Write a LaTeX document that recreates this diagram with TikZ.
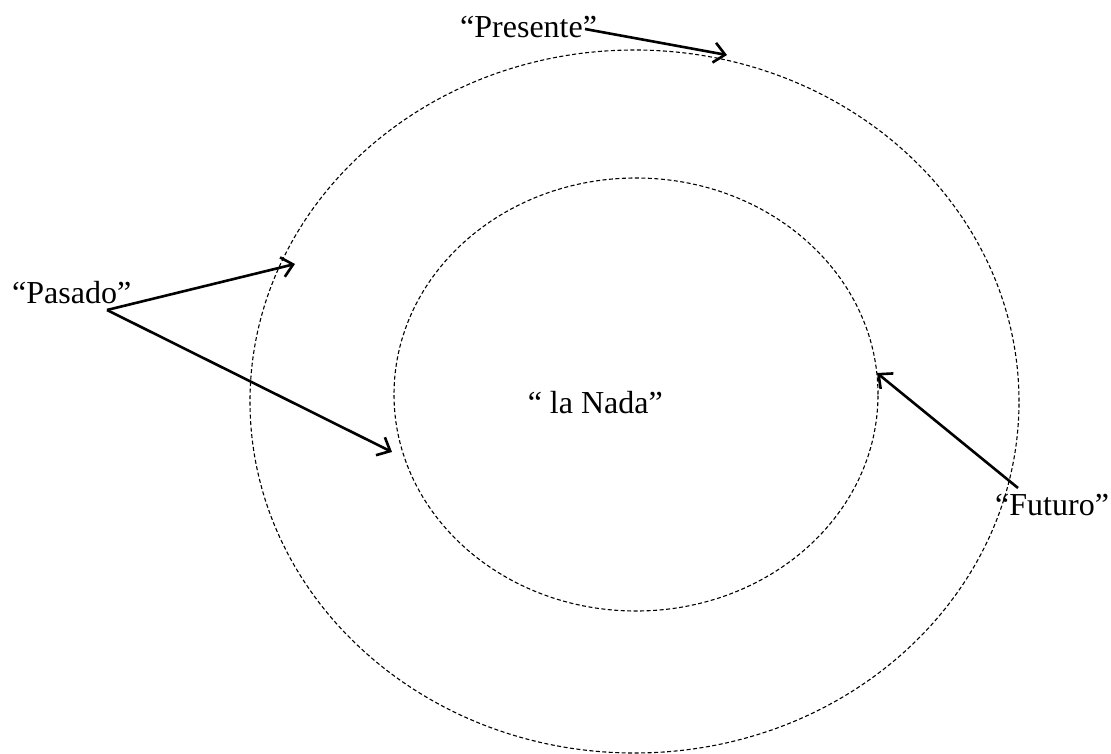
\documentclass[tikz,border=0pt]{standalone}
\usepackage{fontspec}
\setmainfont{Liberation Serif}
\usetikzlibrary{shapes.geometric,arrows.meta}
\begin{document}
\begin{tikzpicture}[x=1pt,y=-1pt,
  ring/.style={draw, ellipse, dashed, line width=1.1pt, dash pattern=on 4pt off 2.5pt, inner sep=0pt},
  lbl/.style={inner sep=0pt, font=\fontsize{32}{38}\selectfont},
  pointer/.style={line width=2.6pt, -{Straight Barb[length=11pt,width=20pt,line width=2.6pt]}}]
\useasboundingbox (0,0) rectangle (1111,754);
\node[ring, minimum width=769pt, minimum height=703pt] (outer) at (634.5,401.5) {};
\node[ring, minimum width=484pt, minimum height=433pt] (inner) at (636,394.5) {};
\node[lbl, anchor=base west] (presente) at (460,38) {“Presente”};
\node[lbl, anchor=base west] (pasado) at (12,303) {“Pasado”};
\node[lbl, anchor=base west] (futuro) at (995,515) {“Futuro”};
\node[lbl, anchor=base east] (nada) at (663,413) {“ la Nada”};
\coordinate (pr0) at (585,29);
\coordinate (pr1) at (727,55);
\coordinate (pa0) at (107,310);
\coordinate (pa1) at (295,264);
\coordinate (pa2) at (392,452);
\coordinate (fu0) at (1018,488);
\coordinate (fu1) at (877,373);
\draw[pointer] (pr0) -- (pr1);
\draw[pointer] (pa0) -- (pa1);
\draw[pointer] (pa0) -- (pa2);
\draw[pointer] (fu0) -- (fu1);
\end{tikzpicture}
\end{document}
